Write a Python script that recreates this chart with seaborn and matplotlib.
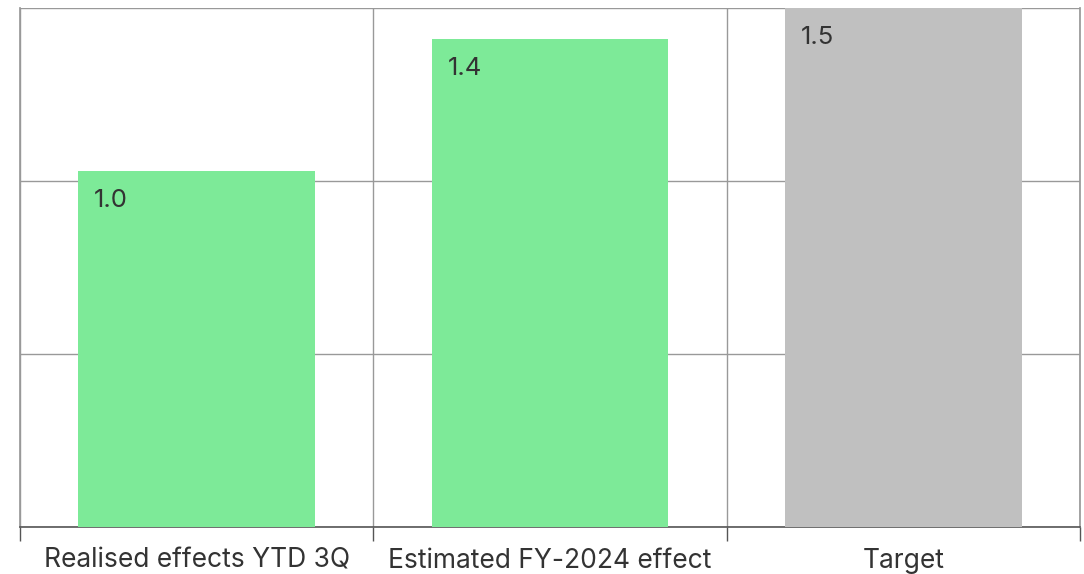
import matplotlib
matplotlib.use("Agg")
import matplotlib.pyplot as plt
import seaborn as sns
import pandas as pd
from matplotlib.ticker import FixedLocator

categories = ["Realised effects YTD 3Q", "Estimated FY-2024 effect", "Target"]
values = [1.03, 1.41, 1.5]
labels = ["1.0", "1.4", "1.5"]
colors = ["#7DEA98", "#7DEA98", "#C0C0C0"]

sns.set_theme(style="white")
plt.rcParams['font.family'] = ['Inter', 'DejaVu Sans']

df = pd.DataFrame({"cat": categories, "val": values})

fig = plt.figure(figsize=(10.84, 5.74), dpi=100)
ax = fig.add_axes([20/1084, 47/574, 1060/1084, 519/574])

sns.barplot(data=df, x="cat", y="val", hue="cat", palette=colors, width=0.67,
            saturation=1, legend=False, ax=ax, zorder=3, linewidth=0, edgecolor="none")

ax.set_xlim(-0.5, 2.5)
ax.set_ylim(0, 1.5)
ax.set_yticks([0, 0.5, 1.0, 1.5])
ax.set_yticklabels([])
ax.tick_params(axis="y", length=0)
ax.xaxis.set_minor_locator(FixedLocator([-0.5, 0.5, 1.5, 2.5]))
ax.tick_params(axis="x", which="major", bottom=False, length=0, labelsize=19,
               labelcolor="#333333", pad=15)
ax.tick_params(axis="x", which="minor", bottom=True, length=10, width=1,
               color="#555555", direction="out")
ax.grid(True, axis="y", color="#999999", linewidth=1, zorder=0)
ax.grid(True, axis="x", which="minor", color="#999999", linewidth=1, zorder=0)
ax.set_axisbelow(True)
ax.set_xlabel("")
ax.set_ylabel("")

ax.spines["top"].set_visible(False)
ax.spines["left"].set_color("#999999")
ax.spines["right"].set_color("#999999")
ax.spines["bottom"].set_color("#555555")
ax.spines["bottom"].set_linewidth(1.2)

for i, p in enumerate(ax.patches):
    x0 = p.get_x()
    h = p.get_height()
    ax.annotate(labels[i], xy=(x0, h), xytext=(16, -18), textcoords="offset pixels",
                ha="left", va="top", fontsize=18.5, color="#333333", zorder=4)

fig.savefig("out.png", dpi=100)
